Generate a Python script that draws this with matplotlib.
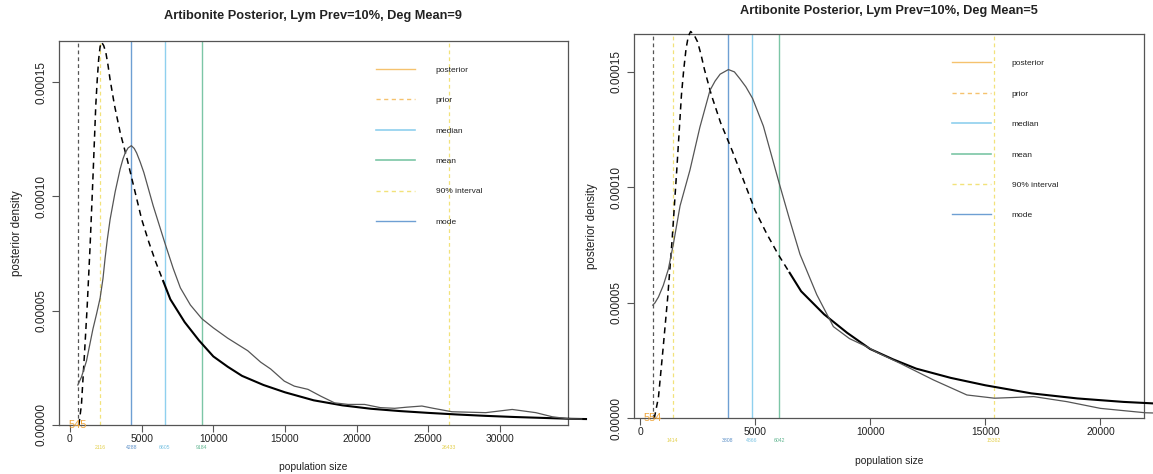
import matplotlib
matplotlib.use("Agg")
import matplotlib.pyplot as plt
from matplotlib import font_manager as fm
from matplotlib.lines import Line2D
from matplotlib.transforms import blended_transform_factory

# ---------------- data ----------------
prior_x = [620, 800, 1000, 1200, 1400, 1600, 1800, 1900, 2000, 2100, 2200, 2350, 2500, 2650,
           2800, 3100, 3500, 4000, 4500, 5000, 5500, 6000, 6500, 7000, 8000, 9000, 10000,
           11000, 12000, 13500, 15000, 17000, 19000, 21000, 23000, 25000, 27000, 29000,
           31000, 33000, 35000, 36000]
prior_d = [0.0, 0.9e-5, 3.0e-5, 5.2e-5, 7.8e-5, 10.8e-5, 14.0e-5, 15.1e-5, 16.0e-5, 16.55e-5,
           16.75e-5, 16.6e-5, 16.3e-5, 15.75e-5, 15.1e-5, 14.0e-5, 12.8e-5, 11.6e-5, 10.3e-5,
           9.0e-5, 8.0e-5, 7.1e-5, 6.3e-5, 5.5e-5, 4.5e-5, 3.7e-5, 3.0e-5, 2.55e-5, 2.15e-5,
           1.75e-5, 1.43e-5, 1.08e-5, 0.86e-5, 0.71e-5, 0.61e-5, 0.53e-5, 0.46e-5, 0.40e-5,
           0.35e-5, 0.31e-5, 0.27e-5, 0.26e-5]

post9_x = [545, 800, 1150, 1600, 1850, 2100, 2300, 2450, 2600, 2800, 3150, 3500, 3700, 3850,
           4050, 4280, 4480, 4650, 4900, 5150, 5800, 6600, 7200, 7700, 8400, 9200, 10000,
           11000, 12400, 13300, 14000, 14950, 15650, 16600, 17500, 18450, 19400, 20550,
           21650, 22650, 23500, 24550, 25350, 26650, 29000, 30850, 32500, 33650, 34800, 35700]
post9_d = [1.75e-5, 2.1e-5, 2.8e-5, 4.2e-5, 4.85e-5, 5.55e-5, 6.4e-5, 7.3e-5, 8.1e-5, 9.0e-5,
           10.2e-5, 11.2e-5, 11.65e-5, 11.9e-5, 12.12e-5, 12.22e-5, 12.1e-5, 11.9e-5, 11.5e-5,
           11.05e-5, 9.6e-5, 8.0e-5, 6.85e-5, 6.0e-5, 5.25e-5, 4.65e-5, 4.25e-5, 3.8e-5,
           3.25e-5, 2.75e-5, 2.45e-5, 1.92e-5, 1.7e-5, 1.56e-5, 1.26e-5, 0.97e-5, 0.9e-5,
           0.9e-5, 0.76e-5, 0.73e-5, 0.78e-5, 0.83e-5, 0.73e-5, 0.58e-5, 0.54e-5, 0.68e-5,
           0.54e-5, 0.36e-5, 0.27e-5, 0.26e-5]

post5_x = [554, 650, 800, 1010, 1230, 1450, 1740, 2170, 2600, 3040, 3260, 3480, 3840, 4100,
           4340, 4600, 4890, 5360, 6040, 6500, 6950, 7680, 8400, 9100, 9850, 10300, 11300,
           12750, 14200, 15400, 16200, 17100, 18550, 20000, 21950, 22300]
post5_d = [4.9e-5, 5.0e-5, 5.25e-5, 5.75e-5, 6.45e-5, 7.55e-5, 9.2e-5, 10.75e-5, 12.6e-5,
           14.2e-5, 14.6e-5, 14.9e-5, 15.1e-5, 15.0e-5, 14.7e-5, 14.35e-5, 13.85e-5, 12.65e-5,
           10.2e-5, 8.6e-5, 7.1e-5, 5.35e-5, 3.97e-5, 3.45e-5, 3.1e-5, 2.85e-5, 2.38e-5,
           1.66e-5, 1.01e-5, 0.87e-5, 0.9e-5, 0.94e-5, 0.72e-5, 0.43e-5, 0.24e-5, 0.23e-5]

# summary statistics: minimum, 5%, mode, median, mean, 95%
stats9 = {"min": 545, "q05": 2116, "mode": 4288, "median": 6605, "mean": 9184, "q95": 26433}
stats5 = {"min": 554, "q05": 1414, "mode": 3808, "median": 4866, "mean": 6042, "q95": 15382}

titles = ["Artibonite Posterior, Lym Prev=10%, Deg Mean=9",
          "Artibonite Posterior, Lym Prev=10%, Deg Mean=5"]
xticks9 = [0, 5000, 10000, 15000, 20000, 25000, 30000]
xticks5 = [0, 5000, 10000, 15000, 20000]
yticks = [0.0, 0.00005, 0.00010, 0.00015]
ytick_labels = ["0.00000", "0.00005", "0.00010", "0.00015"]
legend_labels = ["posterior", "prior", "median", "mean", "90% interval", "mode"]

# ---------------- style ----------------
names = {f.name for f in fm.fontManager.ttflist}
if "Liberation Sans Narrow" in names:
    FONT, S = "Liberation Sans Narrow", 1.0
else:
    FONT, S = "Liberation Sans", 0.84
ROT_FONT = ["Liberation Sans", "DejaVu Sans"]
plt.rcParams["font.family"] = [FONT, "DejaVu Sans"]

C_MODE = "#6e9fd3"
C_MED = "#8fd0ee"
C_MEAN = "#7cc6a6"
C_INT = "#f2e27a"
C_ORANGE = "#f5c26e"
C_MINTXT = "#efa53a"
C_TXT_INT = "#e3cf4a"
C_TXT_MODE = "#5b8fc7"
C_TXT_MED = "#79c3e3"
C_TXT_MEAN = "#5fb48f"
SPLIT = 6500  # prior drawn dashed on its steep part, solid along the tail

W, H = 1153, 474
fig = plt.figure(figsize=(W / 100, H / 100), dpi=100)

panels = [
    dict(rect=[59 / W, 1 - 425 / H, 508.7 / W, 384 / H], xlim=(-767, 34722), ylim=(0, 0.000168),
         post_x=post9_x, post_d=post9_d, stats=stats9, xticks=xticks9, title=titles[0],
         leg=(376 / W, 1 - 66 / H), ty=1.065),
    dict(rect=[634 / W, 1 - 418.3 / H, 510 / W, 384.3 / H], xlim=(-261, 21894), ylim=(0, 0.0001664),
         post_x=post5_x, post_d=post5_d, stats=stats5, xticks=xticks5, title=titles[1],
         leg=(952 / W, 1 - 59.5 / H), ty=1.061),
]

for p in panels:
    ax = fig.add_axes(p["rect"])
    ax.set_xlim(*p["xlim"])
    ax.set_ylim(*p["ylim"])
    st = p["stats"]

    # vertical reference lines
    ax.axvline(st["min"], color="#555555", lw=0.9, ls=(0, (3, 2.5)), zorder=2)
    ax.axvline(st["q05"], color=C_INT, lw=0.9, ls=(0, (3, 2.5)), zorder=2)
    ax.axvline(st["q95"], color=C_INT, lw=0.9, ls=(0, (3, 2.5)), zorder=2)
    ax.axvline(st["mode"], color=C_MODE, lw=1.0, zorder=2)
    ax.axvline(st["median"], color=C_MED, lw=1.0, zorder=2)
    ax.axvline(st["mean"], color=C_MEAN, lw=1.0, zorder=2)

    # prior: dashed over the steep part, solid heavy tail
    px_a = [x for x in prior_x if x <= SPLIT]
    pd_a = prior_d[:len(px_a)]
    px_b = [x for x in prior_x if x >= SPLIT]
    pd_b = prior_d[len(prior_x) - len(px_b):]
    ax.plot(px_a, pd_a, color="black", lw=1.1, ls=(0, (4, 3)), zorder=3, clip_on=False)
    ax.plot(px_b, pd_b, color="black", lw=1.5, zorder=3, clip_on=False)

    # posterior
    ax.plot(p["post_x"], p["post_d"], color="#555555", lw=0.9, zorder=4, clip_on=False)

    # minimum label
    ax.text(st["min"], 0, str(st["min"]), color=C_MINTXT, fontsize=9.5 * S,
            ha="center", va="center", zorder=5, clip_on=False)

    # colored value labels under the axis
    tr = blended_transform_factory(ax.transData, ax.transAxes)
    for key, col in [("q05", C_TXT_INT), ("mode", C_TXT_MODE), ("median", C_TXT_MED),
                     ("mean", C_TXT_MEAN), ("q95", C_TXT_INT)]:
        ax.text(st[key], -0.058, str(st[key]), color=col, fontsize=4.4 * S,
                ha="center", va="center", transform=tr, clip_on=False)

    # axes styling (R base-graphics look)
    for sp in ax.spines.values():
        sp.set_color("#555555")
        sp.set_linewidth(0.9)
    ax.set_xticks(p["xticks"])
    ax.set_xticklabels([str(v) for v in p["xticks"]])
    ax.set_yticks(yticks)
    ax.set_yticklabels(ytick_labels, rotation=90, va="center", family=ROT_FONT, fontsize=8.5)
    ax.tick_params(axis="both", direction="out", length=5, width=0.8, color="#555555",
                   labelcolor="#222222")
    ax.tick_params(axis="x", pad=1.5, labelsize=8.8 * S)
    ax.tick_params(axis="y", pad=3)

    ax.text(0.5, -0.11, "population size", transform=ax.transAxes, ha="center", va="center",
            fontsize=8.8 * S, color="#222222")
    ax.text(-0.0825, 0.5, "posterior density", transform=ax.transAxes, ha="center",
            va="center", rotation=90, fontsize=8.4, family=ROT_FONT, color="#222222")
    ax.text(0.5, p["ty"], p["title"], transform=ax.transAxes, ha="center", va="center",
            fontsize=10.9 * S, fontweight="bold", color="#222222")

    handles = [
        Line2D([], [], color=C_ORANGE, lw=1.0),
        Line2D([], [], color=C_ORANGE, lw=1.0, ls=(0, (3, 2.5))),
        Line2D([], [], color=C_MED, lw=1.2),
        Line2D([], [], color=C_MEAN, lw=1.2),
        Line2D([], [], color=C_INT, lw=1.0, ls=(0, (3, 2.5))),
        Line2D([], [], color=C_MODE, lw=1.0),
    ]
    fs_leg = 7.2 * S
    leg = ax.legend(handles, legend_labels, loc="upper left", bbox_to_anchor=p["leg"],
                    bbox_transform=fig.transFigure, frameon=False, fontsize=fs_leg,
                    handlelength=4.6, handletextpad=2.5, labelspacing=2.68,
                    borderpad=0, borderaxespad=0)
    for t in leg.get_texts():
        t.set_color("#222222")

fig.savefig("out.png", dpi=100)
